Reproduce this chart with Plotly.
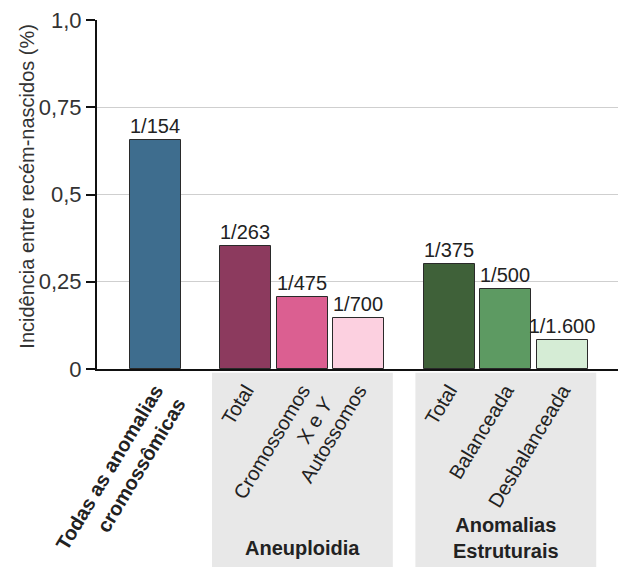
import plotly.graph_objects as go

# ---- data ----
categories = [
    "<b>Todas as anomalias<br>cromossômicas</b>",
    "Total",
    "Cromossomos<br>X e <i>Y</i>",
    "Autossomos",
    "Total",
    "Balanceada",
    "Desbalanceada",
]
values = [0.657, 0.353, 0.207, 0.146, 0.301, 0.228, 0.083]
bar_labels = ["1/154", "1/263", "1/475", "1/700", "1/375", "1/500", "1/1.600"]
colors = ["#3e6d8e", "#8c3a5e", "#db5f91", "#fcd0e0", "#3f6139", "#5d9a62", "#d5ecd5"]
y_tickvals = [0, 0.25, 0.5, 0.75, 1.0]
y_ticktext = ["0", "0,25", "0,5", "0,75", "1,0"]
group_names = ["<b>Aneuploidia</b>", "<b>Anomalias<br>Estruturais</b>"]
y_title = "Incidência entre recém-nascidos (%)"

# slot positions (layout)
pos = [0, 1.6, 2.6, 3.6, 5.2, 6.2, 7.2]

FONT = "Liberation Sans, Arial, Helvetica, sans-serif"

fig = go.Figure()
fig.add_trace(go.Bar(
    x=pos, y=values, width=0.9,
    marker=dict(color=colors, line=dict(color="#2a2a2a", width=1)),
    text=bar_labels, textposition="outside", constraintext="none",
    textfont=dict(size=20, color="#222", family=FONT),
    cliponaxis=False, hoverinfo="skip",
))

# grey group boxes
groups = [(1, 3), (4, 6)]
for (a, b) in groups:
    fig.add_shape(type="rect", xref="x", yref="paper",
                  x0=pos[a] - 0.6, x1=pos[b] + 0.6, y0=-0.58, y1=-0.011,
                  fillcolor="#e8e8e8", line=dict(width=0), layer="below")

fig.add_annotation(x=(pos[1] + pos[3]) / 2, y=-0.514, xref="x", yref="paper",
                   text=group_names[0], showarrow=False,
                   font=dict(size=20, color="#222", family=FONT),
                   xanchor="center", yanchor="middle")
fig.add_annotation(x=(pos[4] + pos[6]) / 2, y=-0.483, xref="x", yref="paper",
                   text=group_names[1], showarrow=False,
                   font=dict(size=20, color="#222", family=FONT),
                   xanchor="center", yanchor="middle", align="center")

# y title
fig.add_annotation(x=-0.1323, y=0.5226, xref="paper", yref="paper",
                   text=y_title, textangle=-90, showarrow=False,
                   font=dict(size=20, color="#333", family=FONT),
                   xanchor="center", yanchor="middle")

# page body has an 8px margin: size the figure to fill the rest of the window
fig.update_layout(
    width=618, height=559, autosize=False,
    margin=dict(l=89, r=0, t=8, b=197),
    paper_bgcolor="white", plot_bgcolor="white",
    showlegend=False,
    font=dict(family=FONT, color="#222"),
    bargap=0,
)
fig.update_xaxes(
    range=[-1.035, 8.327], tickvals=pos, ticktext=categories, tickangle=-59,
    tickfont=dict(size=20, color="#222", family=FONT),
    showline=True, linecolor="#111", linewidth=2, ticks="",
    showgrid=False, zeroline=False,
)
fig.update_yaxes(
    range=[0, 1.0], tickvals=y_tickvals, ticktext=y_ticktext,
    tickfont=dict(size=22, color="#333", family=FONT),
    ticks="outside", ticklen=9, tickwidth=2, tickcolor="#111",
    ticklabeloverflow="allow",
    showline=True, linecolor="#111", linewidth=2,
    showgrid=True, gridcolor="#cfcfcf", gridwidth=1, zeroline=False,
)

fig.write_html("out.html")
